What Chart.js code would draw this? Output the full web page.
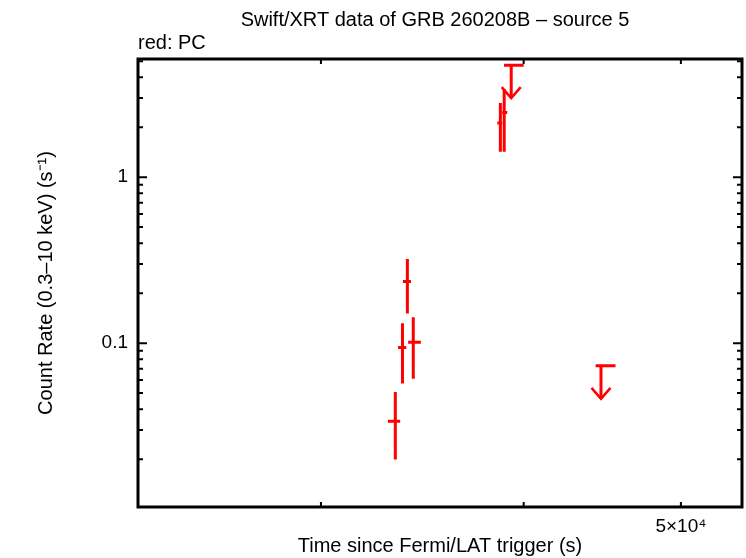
<!DOCTYPE html>
<html>
<head>
<meta charset="utf-8">
<script src="https://cdn.jsdelivr.net/npm/chart.js@4/dist/chart.umd.min.js"></script>
<style>
html,body{margin:0;padding:0;background:#fff;}
#wrap{width:746px;height:558px;}
</style>
</head>
<body>
<div id="wrap"><canvas id="c" width="746" height="558"></canvas></div>
<script>
// ---- data ----
const timeMid   = [33340, 33680, 33915, 34200, 38700, 38910];
const timeLo    = [32990, 33470, 33700, 33950, 38530, 38800];
const timeHi    = [33570, 33860, 34090, 34570, 38800, 39080];
const rateMid   = [0.0338, 0.0942, 0.235, 0.1014, 2.12, 2.45];
const rateLo    = [0.0199, 0.0572, 0.151, 0.061, 1.42, 1.42];
const rateHi    = [0.0507, 0.132, 0.321, 0.1434, 2.80, 3.40];
const ulTime    = [39300, 44640];
const ulTimeLo  = [38900, 44300];
const ulTimeHi  = [40000, 45570];
const ulRate    = [4.73, 0.0730];
const xTickVals = [30000, 40000, 50000];
const xTickText = ['', '', '5×10⁴'];
const yTickVals = [0.1, 1];
const yTickText = ['0.1', '1'];
const titleText = 'Swift/XRT data of GRB 260208B – source 5';
const subText   = 'red: PC';
const xTitle    = 'Time since Fermi/LAT trigger (s)';
const yTitle    = 'Count Rate (0.3–10 keV) (s⁻¹)';

const FONT = "'Liberation Sans', Arial, Helvetica, sans-serif";
const RED = '#ff0000';

const points = timeMid.map((t, i) => ({x: t, y: rateMid[i], i}));

const decor = {
  id: 'decor',
  afterDatasetsDraw(chart) {
    const ctx = chart.ctx;
    const xs = chart.scales.x, ys = chart.scales.y;
    const a = chart.chartArea;
    ctx.save();
    ctx.beginPath();
    ctx.rect(a.left, a.top, a.right - a.left, a.bottom - a.top);
    ctx.clip();
    // error bars
    ctx.strokeStyle = RED;
    ctx.lineWidth = 3;
    ctx.lineCap = 'butt';
    for (let i = 0; i < timeMid.length; i++) {
      const px = xs.getPixelForValue(timeMid[i]);
      const py = ys.getPixelForValue(rateMid[i]);
      ctx.beginPath();
      ctx.moveTo(px, ys.getPixelForValue(rateHi[i]));
      ctx.lineTo(px, ys.getPixelForValue(rateLo[i]));
      ctx.moveTo(xs.getPixelForValue(timeLo[i]), py);
      ctx.lineTo(xs.getPixelForValue(timeHi[i]), py);
      ctx.stroke();
    }
    // upper limits
    for (let i = 0; i < ulTime.length; i++) {
      const px = xs.getPixelForValue(ulTime[i]);
      const py = ys.getPixelForValue(ulRate[i]);
      ctx.lineWidth = 3;
      ctx.beginPath();
      ctx.moveTo(xs.getPixelForValue(ulTimeLo[i]), py);
      ctx.lineTo(xs.getPixelForValue(ulTimeHi[i]), py);
      ctx.moveTo(px, py);
      ctx.lineTo(px, py + 33);
      ctx.stroke();
      ctx.lineWidth = 2.5;
      ctx.beginPath();
      ctx.moveTo(px - 9.5, py + 22);
      ctx.lineTo(px, py + 33);
      ctx.lineTo(px + 9.5, py + 22);
      ctx.stroke();
    }
    ctx.restore();

    // frame + ticks
    ctx.save();
    ctx.strokeStyle = '#000';
    ctx.lineWidth = 2;
    ctx.beginPath();
    xTickVals.forEach(v => {
      const px = xs.getPixelForValue(v);
      ctx.moveTo(px, a.bottom); ctx.lineTo(px, a.bottom - 5);
      ctx.moveTo(px, a.top); ctx.lineTo(px, a.top + 5);
    });
    const lo = Math.floor(Math.log10(ys.min)), hi = Math.ceil(Math.log10(ys.max));
    for (let d = lo; d <= hi; d++) {
      for (let m = 1; m <= 9; m++) {
        const v = m * Math.pow(10, d);
        if (v < ys.min || v > ys.max) continue;
        const py = ys.getPixelForValue(v);
        const len = m === 1 ? 9 : 5;
        ctx.moveTo(a.left, py); ctx.lineTo(a.left + len, py);
        ctx.moveTo(a.right, py); ctx.lineTo(a.right - len, py);
      }
    }
    ctx.stroke();
    ctx.lineWidth = 3;
    ctx.strokeRect(a.left, a.top, a.right - a.left, a.bottom - a.top);

    // titles
    ctx.fillStyle = '#000';
    ctx.font = '20px ' + FONT;
    ctx.textAlign = 'center';
    ctx.textBaseline = 'middle';
    ctx.fillText(titleText, 435, 20);
    ctx.textAlign = 'left';
    ctx.fillText(subText, 138, 43);
    ctx.restore();
  }
};

new Chart(document.getElementById('c'), {
  type: 'scatter',
  data: {
    datasets: [{
      data: points,
      pointRadius: 0,
      pointHoverRadius: 0,
      showLine: false
    }]
  },
  options: {
    responsive: false,
    animation: false,
    events: [],
    layout: {padding: {left: 0, right: 4, top: 59, bottom: 0}},
    plugins: {legend: {display: false}, tooltip: {enabled: false}, title: {display: false}},
    scales: {
      x: {
        type: 'logarithmic',
        min: 23140, max: 54530,
        afterBuildTicks(s) { s.ticks = xTickVals.map(v => ({value: v})); },
        afterFit(s) { s.height = 51; },
        grid: {display: false},
        border: {display: false},
        ticks: {
          autoSkip: false, maxRotation: 0, padding: 0,
          color: '#000', font: {family: FONT, size: 19},
          callback: (v) => { const k = xTickVals.indexOf(v); return k >= 0 ? xTickText[k] : ''; }
        },
        title: {display: true, text: xTitle, color: '#000', font: {family: FONT, size: 20}, padding: {top: 0, bottom: 0}}
      },
      y: {
        type: 'logarithmic',
        min: 0.0103, max: 5.15,
        afterBuildTicks(s) { s.ticks = yTickVals.map(v => ({value: v})); },
        afterFit(s) { s.width = 138; },
        grid: {display: false},
        border: {display: false},
        ticks: {
          autoSkip: false, padding: 2,
          color: '#000', font: {family: FONT, size: 19},
          callback: (v) => { const k = yTickVals.indexOf(v); return k >= 0 ? yTickText[k] : ''; }
        },
        title: {display: true, text: yTitle, color: '#000', font: {family: FONT, size: 20}, padding: {top: 34, bottom: 0}}
      }
    }
  },
  plugins: [decor]
});
</script>
</body>
</html>
